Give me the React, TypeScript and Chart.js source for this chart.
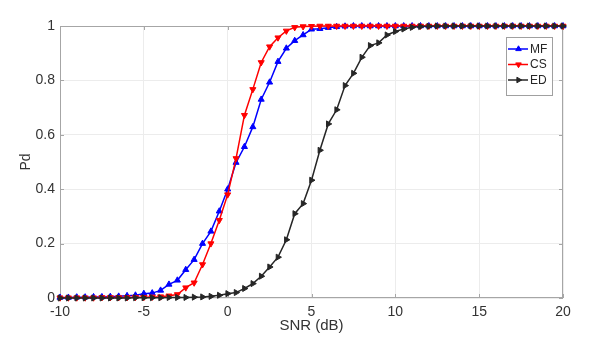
import { useEffect, useRef } from "react";
import { Chart, registerables } from "chart.js";
Chart.register(...registerables);

const snr = [
  -10, -9.5, -9, -8.5, -8, -7.5, -7, -6.5, -6, -5.5, -5, -4.5, -4, -3.5, -3, -2.5, -2, -1.5, -1, -0.5,
  0, 0.5, 1, 1.5, 2, 2.5, 3, 3.5, 4, 4.5, 5, 5.5, 6, 6.5, 7, 7.5, 8, 8.5, 9, 9.5,
  10, 10.5, 11, 11.5, 12, 12.5, 13, 13.5, 14, 14.5, 15, 15.5, 16, 16.5, 17, 17.5, 18, 18.5, 19, 19.5, 20,
];
const mf = [
  0.002, 0.002, 0.003, 0.003, 0.004, 0.004, 0.005, 0.006, 0.008, 0.01, 0.016, 0.018, 0.028, 0.05, 0.065, 0.104, 0.141, 0.2, 0.245, 0.319,
  0.4, 0.498, 0.556, 0.629, 0.73, 0.793, 0.869, 0.918, 0.946, 0.967, 0.988, 0.99, 0.994, 0.997, 0.999, 1, 1, 1, 1, 1,
  1, 1, 1, 1, 1, 1, 1, 1, 1, 1, 1, 1, 1, 1, 1, 1, 1, 1, 1, 1, 1,
];
const cs = [
  0.001, 0.001, 0.001, 0.001, 0.001, 0.002, 0.002, 0.002, 0.002, 0.003, 0.003, 0.004, 0.005, 0.008, 0.013, 0.038, 0.056, 0.123, 0.2, 0.286,
  0.38, 0.513, 0.672, 0.767, 0.866, 0.924, 0.957, 0.982, 0.995, 0.998, 0.999, 1, 1, 1, 1, 1, 1, 1, 1, 1,
  1, 1, 1, 1, 1, 1, 1, 1, 1, 1, 1, 1, 1, 1, 1, 1, 1, 1, 1, 1, 1,
];
const ed = [
  0, 0, 0, 0, 0, 0, 0, 0, 0, 0.001, 0.001, 0.001, 0.001, 0.002, 0.002, 0.002, 0.003, 0.004, 0.006, 0.01,
  0.016, 0.02, 0.035, 0.053, 0.08, 0.114, 0.15, 0.214, 0.31, 0.347, 0.433, 0.543, 0.64, 0.692, 0.781, 0.826, 0.885, 0.928, 0.938, 0.967,
  0.98, 0.989, 0.995, 0.998, 0.999, 1, 1, 1, 1, 1, 1, 1, 1, 1, 1, 1, 1, 1, 1, 1, 1,
];
const seriesNames = ["MF", "CS", "ED"];
const seriesColors = ["#0000ff", "#ff0000", "#262626"];
const seriesRotation = [0, 180, 90];
const xTickValues = [-10, -5, 0, 5, 10, 15, 20];
const yTickValues = [0, 0.2, 0.4, 0.6, 0.8, 1];
const xTitle = "SNR (dB)";
const yTitle = "Pd";

const FONT = "'Liberation Sans', Arial, sans-serif";

function triangle(ctx: CanvasRenderingContext2D, cx: number, cy: number, r: number, rotDeg: number) {
  const rad = (rotDeg * Math.PI) / 180;
  ctx.beginPath();
  for (let k = 0; k < 3; k++) {
    const a = rad - Math.PI / 2 + (k * 2 * Math.PI) / 3;
    const px = cx + Math.cos(a) * r;
    const py = cy + Math.sin(a) * r;
    if (k === 0) ctx.moveTo(px, py);
    else ctx.lineTo(px, py);
  }
  ctx.closePath();
  ctx.fill();
  ctx.stroke();
}

export default function App() {
  const ref = useRef<HTMLCanvasElement>(null);
  useEffect(() => {
    document.body.style.margin = "0";
    const canvas = ref.current!;
    const seriesValues = [mf, cs, ed];

    const framePlugin = {
      id: "frame",
      beforeDatasetsDraw(chart: any) {
        const { ctx, chartArea: a, scales } = chart;
        ctx.save();
        ctx.strokeStyle = "#a6a6a6";
        ctx.lineWidth = 1;
        ctx.strokeRect(Math.round(a.left) + 0.5, Math.round(a.top) + 0.5, Math.round(a.width) - 1, Math.round(a.height) - 1);
        const tl = 4;
        ctx.beginPath();
        for (const v of xTickValues) {
          const x = Math.round(scales.x.getPixelForValue(v)) + 0.5;
          ctx.moveTo(x, a.bottom);
          ctx.lineTo(x, a.bottom - tl);
          ctx.moveTo(x, a.top);
          ctx.lineTo(x, a.top + tl);
        }
        for (const v of yTickValues) {
          const y = Math.round(scales.y.getPixelForValue(v)) + 0.5;
          ctx.moveTo(a.left, y);
          ctx.lineTo(a.left + tl, y);
          ctx.moveTo(a.right, y);
          ctx.lineTo(a.right - tl, y);
        }
        ctx.stroke();
        ctx.restore();
      },
      afterDatasetsDraw(chart: any) {
        const { ctx } = chart;
        const bx = 506, by = 37, bw = 47, bh = 59;
        ctx.save();
        ctx.fillStyle = "#ffffff";
        ctx.fillRect(bx, by, bw, bh);
        ctx.strokeStyle = "#a0a0a0";
        ctx.lineWidth = 1;
        ctx.strokeRect(bx + 0.5, by + 0.5, bw - 1, bh - 1);
        ctx.font = "12px " + FONT;
        ctx.textBaseline = "middle";
        ctx.textAlign = "left";
        seriesNames.forEach((name, i) => {
          const y = 49 + i * 15.5;
          ctx.strokeStyle = seriesColors[i];
          ctx.fillStyle = seriesColors[i];
          ctx.lineWidth = 1.5;
          ctx.beginPath();
          ctx.moveTo(508, y);
          ctx.lineTo(528, y);
          ctx.stroke();
          ctx.lineWidth = 1;
          triangle(ctx, 518.5, y, 3.2, seriesRotation[i]);
          ctx.fillStyle = "#262626";
          ctx.fillText(name, 530, y + 0.5);
        });
        ctx.restore();
      },
    };

    const chart = new Chart(canvas, {
      type: "line",
      data: {
        datasets: seriesNames.map((name, i) => ({
          label: name,
          data: snr.map((x, j) => ({ x, y: seriesValues[i][j] })),
          borderColor: seriesColors[i],
          backgroundColor: seriesColors[i],
          borderWidth: 1.5,
          pointStyle: "triangle",
          pointRotation: seriesRotation[i],
          pointRadius: 3.5,
          pointBorderWidth: 1,
          pointBackgroundColor: seriesColors[i],
          pointBorderColor: seriesColors[i],
          tension: 0,
          clip: false as any,
          order: 3 - i,
        })),
      },
      options: {
        responsive: false,
        animation: false,
        devicePixelRatio: 1,
        layout: { padding: { left: 0, top: 26, right: 39, bottom: 0 } },
        plugins: { legend: { display: false }, tooltip: { enabled: false } },
        scales: {
          x: {
            type: "linear",
            min: -10,
            max: 20,
            afterBuildTicks: (s: any) => {
              s.ticks = xTickValues.map((v) => ({ value: v }));
            },
            afterFit: (s: any) => {
              s.height = 64;
            },
            grid: { color: "#ececec", drawTicks: false, lineWidth: 1 },
            border: { display: false },
            ticks: { color: "#333333", font: { family: FONT, size: 14 }, padding: 6, maxRotation: 0, autoSkip: false },
            title: { display: true, text: xTitle, color: "#333333", font: { family: FONT, size: 15 }, padding: { top: 0, bottom: 27 } },
          },
          y: {
            type: "linear",
            min: 0,
            max: 1,
            afterBuildTicks: (s: any) => {
              s.ticks = yTickValues.map((v) => ({ value: v }));
            },
            afterFit: (s: any) => {
              s.width = 60;
            },
            grid: { color: "#ececec", drawTicks: false, lineWidth: 1 },
            border: { display: false },
            ticks: {
              color: "#333333",
              font: { family: FONT, size: 14 },
              padding: 5,
              callback: (v: any) => String(Math.round(Number(v) * 10) / 10),
            },
            title: { display: true, text: yTitle, color: "#333333", font: { family: FONT, size: 14 }, padding: { top: 18, bottom: 0 } },
          },
        },
      },
      plugins: [framePlugin],
    });
    return () => chart.destroy();
  }, []);
  return (
    <div style={{ width: 602, height: 362 }}>
      <canvas ref={ref} width={602} height={362} />
    </div>
  );
}
